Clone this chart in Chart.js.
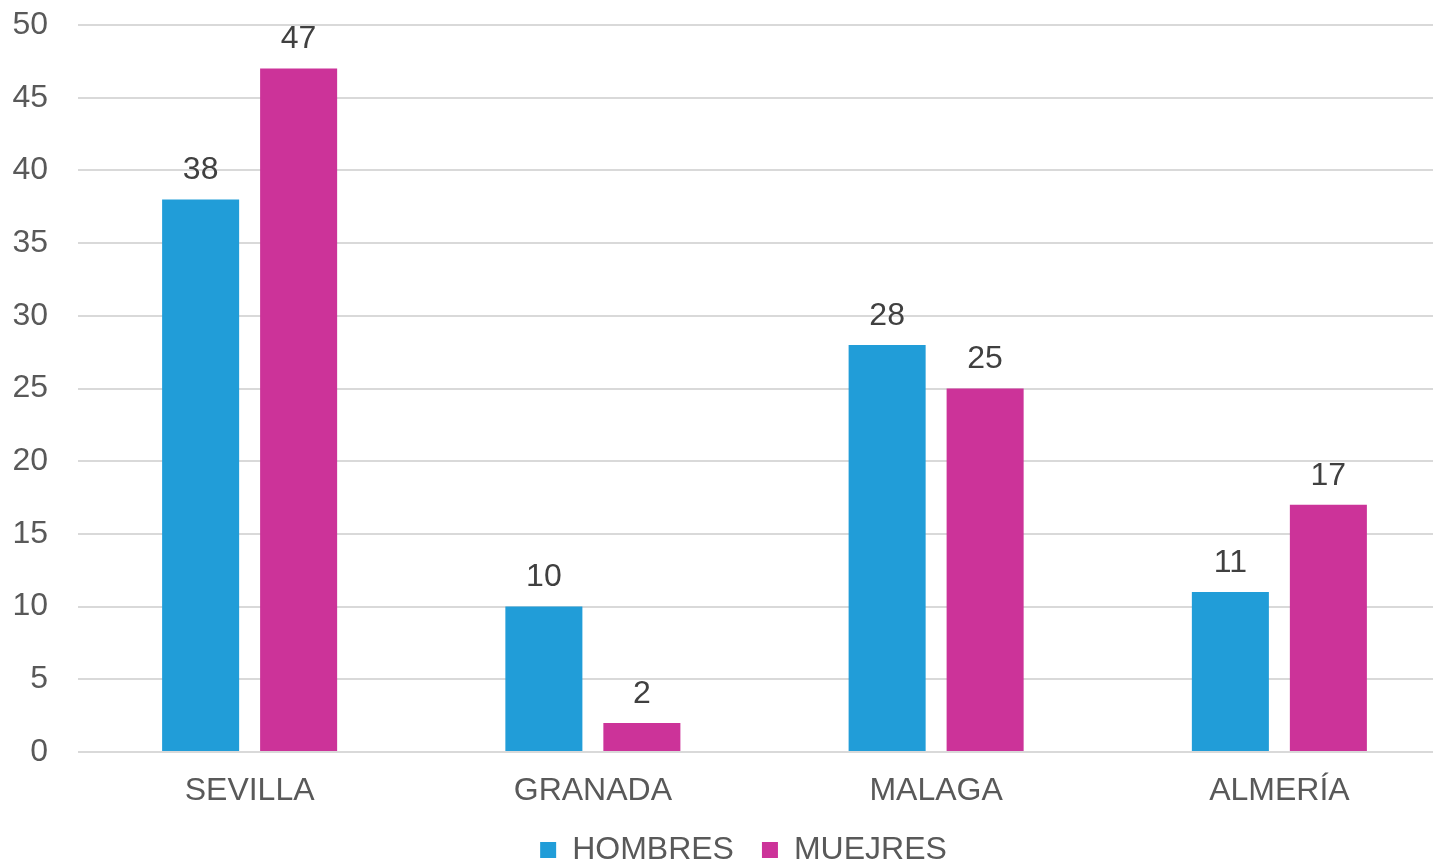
<!DOCTYPE html>
<html>
<head>
<meta charset="utf-8">
<script src="https://cdn.jsdelivr.net/npm/chart.js@4"></script>
<style>
  html, body { margin: 0; padding: 0; background: #fff; overflow: hidden; }
  #wrap { width: 1433px; height: 864px; overflow: hidden; }
</style>
</head>
<body>
<div id="wrap"><canvas id="c" width="1451" height="864"></canvas></div>
<script>
var provincias = ['SEVILLA', 'GRANADA', 'MALAGA', 'ALMERÍA'];
var hombres = [38, 10, 28, 11];
var mujeres = [47, 2, 25, 17];
var yTicks = [0, 5, 10, 15, 20, 25, 30, 35, 40, 45, 50];

// numbers above the bars
var labelPlugin = {
    id: 'valueLabels',
    afterDatasetsDraw: function(chart){
        var ctx = chart.ctx;
        ctx.save();
        ctx.font = '32px "Liberation Sans", Arial, sans-serif';
        ctx.fillStyle = '#404040';
        ctx.textAlign = 'center';
        ctx.textBaseline = 'middle';
        chart.data.datasets.forEach(function(ds, i){
            var meta = chart.getDatasetMeta(i);
            meta.data.forEach(function(bar, j){
                ctx.fillText(String(ds.data[j]), bar.x, bar.y - 29);
            });
        });
        ctx.restore();
    }
};

// nudge legend to the right like the original
var legendShift = {
    id: 'legendShift',
    afterLayout: function(chart){
        chart.legend.left += 18;
        chart.legend.right += 18;
    }
};

Chart.defaults.font.family = '"Liberation Sans", Arial, sans-serif';
Chart.defaults.font.size = 32;
Chart.defaults.color = '#595959';

new Chart(document.getElementById('c'), {
    type: 'bar',
    data: {
        labels: provincias,
        datasets: [{
            label: 'HOMBRES',
            data: hombres,
            backgroundColor: '#219dd8'
        }, {
            label: 'MUEJRES',
            data: mujeres,
            backgroundColor: '#cc3399'
        }]
    },
    options: {
        responsive: false,
        animation: false,
        devicePixelRatio: 1,
        categoryPercentage: 0.571,
        barPercentage: 0.786,
        layout: { padding: { top: 25, left: 0, right: 0, bottom: 0 } },
        plugins: {
            tooltip: { enabled: false },
            legend: {
                position: 'bottom',
                maxHeight: 58,
                labels: {
                    boxWidth: 16,
                    boxHeight: 16,
                    padding: 28,
                    color: '#595959',
                    font: { size: 32 }
                }
            }
        },
        scales: {
            x: {
                grid: { display: false },
                border: { display: false },
                ticks: { padding: 12, color: '#595959', font: { size: 32 } },
                afterFit: function(s){ s.height = 54; }
            },
            y: {
                min: 0,
                max: 50,
                afterBuildTicks: function(s){
                    s.ticks = yTicks.map(function(v){ return { value: v }; });
                },
                grid: { color: '#d9d9d9', lineWidth: 2, drawTicks: false },
                border: { display: false },
                ticks: { padding: 30, color: '#595959', font: { size: 32 } },
                afterFit: function(s){ s.width = 78; s.paddingTop = 0; s.paddingBottom = 0; }
            }
        }
    },
    plugins: [labelPlugin, legendShift]
});
</script>
</body>
</html>
